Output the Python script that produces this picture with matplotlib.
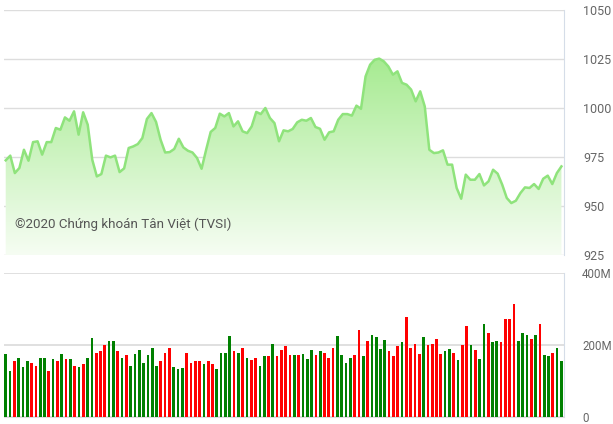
import numpy as np
import matplotlib
matplotlib.use("Agg")
import matplotlib.pyplot as plt
from matplotlib.colors import LinearSegmentedColormap

index_vals = [973.3,975.7,966.8,969.4,978.7,973.1,982.6,983,976.2,982.6,982.6,989.8,988.9,995.2,993.5,998.3,986.4,997.8,991.5,973.6,965.1,966.3,975.7,974.8,975.7,967.3,969.2,979.6,980.4,981.6,984.7,994.4,997.4,992.9,983.8,977.3,977.5,979.1,984.3,979.9,978.2,977.3,974.5,
              969,978.7,
              987.8,989.8,997.1,995.7,997.4,990.6,993.2,988.1,987.2,990.6,998,996.9,1000,994.9,992.3,983,988.6,988.1,989.3,992.7,994,993.5,994.9,990.3,989.4,983.8,987.6,988.1,994,996.9,996.9,996.1,1001.2,999.6,
              1016.1,1022.1,1024.6,1025.2,1023.8,1021.2,1017,1018.7,1012.8,1011.9,1009.4,1003.4,1008.5,1000.8,978.7,977,977.3,978.4,971.1,971.1,959.2,953.7,966,963.4,963.4,966.3,960.5,962.6,968.5,966.5,960.9,954.1,951.5,952.7,956.6,959.5,959.2,961.2,958.7,963.9,965.5,961.2,966.8,970.2]

volumes = [175,129,155,165,140,155,151,143,165,165,129,162,155,175,162,162,143,140,147,165,
           219,179,183,200,211,211,183,165,172,143,175,186,151,172,193,143,155,179,193,140,
           133,137,179,151,155,155,147,155,147,133,179,179,225,183,179,193,165,158,165,143,
           169,169,204,169,186,197,172,172,172,175,162,186,172,183,179,165,193,225,172,151,
           165,172,243,169,211,228,222,190,214,183,169,197,208,278,193,204,175,222,200,204,
           218,175,183,190,179,158,200,254,200,186,162,257,232,208,211,208,271,271,314,211,
           232,228,218,228,257,172,169,179,193,155]
directions = ("ggrgggrrggrgrgrgrgrg" "grrrggrgrgggggggrrrg"
              "ggrrrrgrrggggrgrgrrg" "grgrrrrgrgggrgrrrggg"
              "grrgrggggrrrgrrrrgrr" "rrggrgrrgrggrggrrrrg"
              "ggrgrggrgg")
price_ticks = [925, 950, 975, 1000, 1025, 1050]
vol_ticks = [0, 200, 400]
vol_labels = ["0", "200M", "400M"]
watermark = "©2020 Chứng khoán Tân Việt (TVSI)"

plt.rcParams['font.family'] = ['Roboto', 'DejaVu Sans']
W, H = 613, 424
fig = plt.figure(figsize=(W/100, H/100), dpi=100)
left, right = 4/W, 564/W
ax1 = fig.add_axes([left, 1-255/H, right-left, 245/H])
ax2 = fig.add_axes([left, 1-417/H, right-left, 144/H])

n = len(volumes)
xlim = (-0.4, n - 1 + 0.6)
xl = np.linspace(0, n - 1, len(index_vals))
yv = np.array(index_vals)
ax1.set_xlim(xlim); ax1.set_ylim(925, 1050)
cmap = LinearSegmentedColormap.from_list("g", ["#f6fdf3", "#a3ea8d"])
grad = np.linspace(0, 1, 256).reshape(-1, 1)
im = ax1.imshow(grad, extent=[xlim[0], xlim[1], 925, 1030], origin="lower", aspect="auto", cmap=cmap, zorder=1)
poly = ax1.fill_between(xl, yv, 925, color="none")
im.set_clip_path(poly.get_paths()[0], transform=ax1.transData)
ax1.plot(xl, yv, color="#8fe37c", lw=1.8, zorder=3)
ax1.set_yticks(price_ticks)
ax1.grid(axis="y", color="#dddddd", lw=1)
ax1.set_axisbelow(True)
ax1.text(0.02, 0.11, watermark, transform=ax1.transAxes, fontsize=9.6, color="#555555")

x = np.arange(n)
ax2.bar(x, volumes, width=0.62, color=["#008000" if c == "g" else "#ff0000" for c in directions[:n]], zorder=3)
ax2.set_xlim(xlim); ax2.set_ylim(0, 400)
ax2.set_yticks(vol_ticks); ax2.set_yticklabels(vol_labels)
ax2.grid(axis="y", color="#dddddd", lw=1.3)
ax2.set_axisbelow(True)

for ax in (ax1, ax2):
    ax.set_xticks([])
    for s in ("left", "top", "bottom"):
        ax.spines[s].set_visible(False)
    ax.spines["right"].set_color("#d5dde8")
    ax.yaxis.tick_right()
    ax.tick_params(axis="y", length=0, pad=14, labelsize=9, labelcolor="#666666")
ax2.tick_params(axis="y", pad=13, labelsize=8.3)
ax2.spines["bottom"].set_visible(True); ax2.spines["bottom"].set_color("#dddddd")

fig.savefig("out.png", dpi=100)
